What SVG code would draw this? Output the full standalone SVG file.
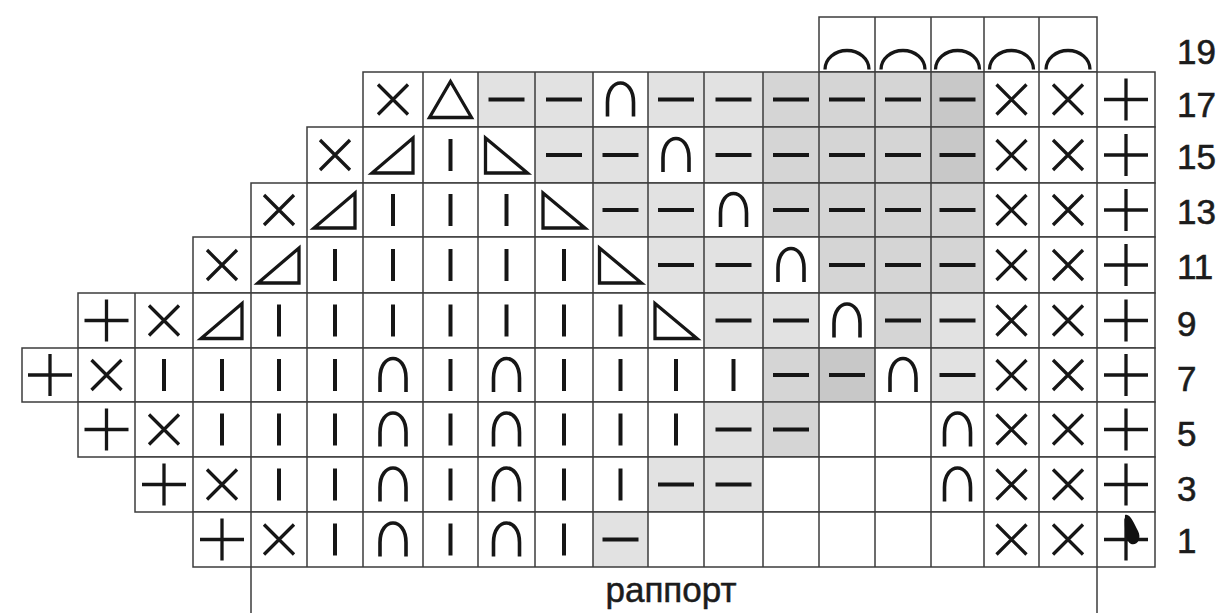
<svg xmlns="http://www.w3.org/2000/svg" xmlns:xlink="http://www.w3.org/1999/xlink" width="1223" height="613" viewBox="0 0 1223 613">
<style>
.bg{fill:#ffffff}
.s1{fill:#e2e2e2}
.s2{fill:#d5d5d5}
.s3{fill:#c8c8c8}
.grid{fill:none;stroke:#3c3c3c;stroke-width:1.5}
.sym{fill:none;stroke:#161616;stroke-width:3.3}
.num{font-family:"Liberation Sans",Arial,sans-serif;font-size:35px;fill:#1c1c1c;stroke:#1c1c1c;stroke-width:0.6}
.lbl{font-family:"Liberation Sans",Arial,sans-serif;font-size:35px;fill:#1c1c1c;stroke:#1c1c1c;stroke-width:0.5;text-anchor:middle}
</style>
<defs>
<path id="sx" d="M-15,-15L15,15M15,-15L-15,15"/>
<path id="sp" d="M-22,0H22M0,-21V21"/>
<path id="sk" d="M0,-16V16" stroke-width="4"/>
<path id="sm" d="M-18,0H18" stroke-width="4"/>
<path id="sa" d="M-13,17V3C-13,-23 13,-23 13,3V17" stroke-width="3.6"/>
<path id="st" d="M0,-18L21,18H-21Z"/>
<path id="sl" d="M-21,18H20V-17Z"/>
<path id="sr" d="M-21,-17V18H21Z"/>
<path id="sc" d="M-22,25A22,19 0 0 1 22,25"/>
</defs>
<rect width="1223" height="613" fill="#ffffff"/>

<g id="row-19">
<rect class="bg" x="819" y="17" width="278" height="55"/>
<path class="grid" d="M819,17H1097V72H819ZM875,17V72M931,17V72M984,17V72M1039,17V72"/>
<g class="sym">
<use xlink:href="#sc" x="847" y="44.5"/><use xlink:href="#sc" x="903" y="44.5"/><use xlink:href="#sc" x="957.5" y="44.5"/><use xlink:href="#sc" x="1011.5" y="44.5"/><use xlink:href="#sc" x="1068" y="44.5"/>
</g>
<text class="num" x="1177" y="64">19</text>
</g>

<g id="row-17">
<rect class="bg" x="363" y="72" width="792" height="55"/>
<rect class="s1" x="478" y="72" width="57" height="55"/><rect class="s1" x="535" y="72" width="58" height="55"/>
<rect class="s1" x="648" y="72" width="56" height="55"/><rect class="s1" x="704" y="72" width="59" height="55"/><rect class="s2" x="763" y="72" width="56" height="55"/><rect class="s2" x="819" y="72" width="56" height="55"/><rect class="s2" x="875" y="72" width="56" height="55"/><rect class="s3" x="931" y="72" width="53" height="55"/>
<path class="grid" d="M363,72H1155V127H363ZM423,72V127M478,72V127M535,72V127M593,72V127M648,72V127M704,72V127M763,72V127M819,72V127M875,72V127M931,72V127M984,72V127M1039,72V127M1097,72V127"/>
<g class="sym">
<use xlink:href="#sx" x="393" y="99.5"/><use xlink:href="#st" x="450.5" y="99.5"/><use xlink:href="#sm" x="506.5" y="99.5"/><use xlink:href="#sm" x="564" y="99.5"/><use xlink:href="#sa" x="620.5" y="99.5"/><use xlink:href="#sm" x="676" y="99.5"/><use xlink:href="#sm" x="733.5" y="99.5"/><use xlink:href="#sm" x="791" y="99.5"/><use xlink:href="#sm" x="847" y="99.5"/><use xlink:href="#sm" x="903" y="99.5"/><use xlink:href="#sm" x="957.5" y="99.5"/><use xlink:href="#sx" x="1011.5" y="99.5"/><use xlink:href="#sx" x="1068" y="99.5"/><use xlink:href="#sp" x="1126" y="99.5"/>
</g>
<text class="num" x="1177" y="117">17</text>
</g>

<g id="row-15">
<rect class="bg" x="307" y="127" width="848" height="56"/>
<rect class="s1" x="535" y="127" width="58" height="56"/><rect class="s1" x="593" y="127" width="55" height="56"/>
<rect class="s1" x="704" y="127" width="59" height="56"/><rect class="s2" x="763" y="127" width="56" height="56"/><rect class="s2" x="819" y="127" width="56" height="56"/><rect class="s2" x="875" y="127" width="56" height="56"/><rect class="s3" x="931" y="127" width="53" height="56"/>
<path class="grid" d="M307,127H1155V183H307ZM363,127V183M423,127V183M478,127V183M535,127V183M593,127V183M648,127V183M704,127V183M763,127V183M819,127V183M875,127V183M931,127V183M984,127V183M1039,127V183M1097,127V183"/>
<g class="sym">
<use xlink:href="#sx" x="335" y="155"/><use xlink:href="#sl" x="393" y="155"/><use xlink:href="#sk" x="450.5" y="155"/><use xlink:href="#sr" x="506.5" y="155"/><use xlink:href="#sm" x="564" y="155"/><use xlink:href="#sm" x="620.5" y="155"/><use xlink:href="#sa" x="676" y="155"/><use xlink:href="#sm" x="733.5" y="155"/><use xlink:href="#sm" x="791" y="155"/><use xlink:href="#sm" x="847" y="155"/><use xlink:href="#sm" x="903" y="155"/><use xlink:href="#sm" x="957.5" y="155"/><use xlink:href="#sx" x="1011.5" y="155"/><use xlink:href="#sx" x="1068" y="155"/><use xlink:href="#sp" x="1126" y="155"/>
</g>
<text class="num" x="1177" y="169">15</text>
</g>

<g id="row-13">
<rect class="bg" x="251" y="183" width="904" height="54"/>
<rect class="s1" x="593" y="183" width="55" height="54"/><rect class="s1" x="648" y="183" width="56" height="54"/>
<rect class="s2" x="763" y="183" width="56" height="54"/><rect class="s2" x="819" y="183" width="56" height="54"/><rect class="s2" x="875" y="183" width="56" height="54"/><rect class="s2" x="931" y="183" width="53" height="54"/>
<path class="grid" d="M251,183H1155V237H251ZM307,183V237M363,183V237M423,183V237M478,183V237M535,183V237M593,183V237M648,183V237M704,183V237M763,183V237M819,183V237M875,183V237M931,183V237M984,183V237M1039,183V237M1097,183V237"/>
<g class="sym">
<use xlink:href="#sx" x="279" y="210"/><use xlink:href="#sl" x="335" y="210"/><use xlink:href="#sk" x="393" y="210"/><use xlink:href="#sk" x="450.5" y="210"/><use xlink:href="#sk" x="506.5" y="210"/><use xlink:href="#sr" x="564" y="210"/><use xlink:href="#sm" x="620.5" y="210"/><use xlink:href="#sm" x="676" y="210"/><use xlink:href="#sa" x="733.5" y="210"/><use xlink:href="#sm" x="791" y="210"/><use xlink:href="#sm" x="847" y="210"/><use xlink:href="#sm" x="903" y="210"/><use xlink:href="#sm" x="957.5" y="210"/><use xlink:href="#sx" x="1011.5" y="210"/><use xlink:href="#sx" x="1068" y="210"/><use xlink:href="#sp" x="1126" y="210"/>
</g>
<text class="num" x="1177" y="224">13</text>
</g>

<g id="row-11">
<rect class="bg" x="193" y="237" width="962" height="56"/>
<rect class="s1" x="648" y="237" width="56" height="56"/><rect class="s1" x="704" y="237" width="59" height="56"/>
<rect class="s2" x="819" y="237" width="56" height="56"/><rect class="s2" x="875" y="237" width="56" height="56"/><rect class="s2" x="931" y="237" width="53" height="56"/>
<path class="grid" d="M193,237H1155V293H193ZM251,237V293M307,237V293M363,237V293M423,237V293M478,237V293M535,237V293M593,237V293M648,237V293M704,237V293M763,237V293M819,237V293M875,237V293M931,237V293M984,237V293M1039,237V293M1097,237V293"/>
<g class="sym">
<use xlink:href="#sx" x="222" y="265"/><use xlink:href="#sl" x="279" y="265"/><use xlink:href="#sk" x="335" y="265"/><use xlink:href="#sk" x="393" y="265"/><use xlink:href="#sk" x="450.5" y="265"/><use xlink:href="#sk" x="506.5" y="265"/><use xlink:href="#sk" x="564" y="265"/><use xlink:href="#sr" x="620.5" y="265"/><use xlink:href="#sm" x="676" y="265"/><use xlink:href="#sm" x="733.5" y="265"/><use xlink:href="#sa" x="791" y="265"/><use xlink:href="#sm" x="847" y="265"/><use xlink:href="#sm" x="903" y="265"/><use xlink:href="#sm" x="957.5" y="265"/><use xlink:href="#sx" x="1011.5" y="265"/><use xlink:href="#sx" x="1068" y="265"/><use xlink:href="#sp" x="1126" y="265"/>
</g>
<text class="num" x="1177" y="279">11</text>
</g>

<g id="row-9">
<rect class="bg" x="78" y="293" width="1077" height="55"/>
<rect class="s1" x="704" y="293" width="59" height="55"/><rect class="s1" x="763" y="293" width="56" height="55"/>
<rect class="s2" x="875" y="293" width="56" height="55"/><rect class="s1" x="931" y="293" width="53" height="55"/>
<path class="grid" d="M78,293H1155V348H78ZM135,293V348M193,293V348M251,293V348M307,293V348M363,293V348M423,293V348M478,293V348M535,293V348M593,293V348M648,293V348M704,293V348M763,293V348M819,293V348M875,293V348M931,293V348M984,293V348M1039,293V348M1097,293V348"/>
<g class="sym">
<use xlink:href="#sp" x="106.5" y="320.5"/><use xlink:href="#sx" x="164" y="320.5"/><use xlink:href="#sl" x="222" y="320.5"/><use xlink:href="#sk" x="279" y="320.5"/><use xlink:href="#sk" x="335" y="320.5"/><use xlink:href="#sk" x="393" y="320.5"/><use xlink:href="#sk" x="450.5" y="320.5"/><use xlink:href="#sk" x="506.5" y="320.5"/><use xlink:href="#sk" x="564" y="320.5"/><use xlink:href="#sk" x="620.5" y="320.5"/><use xlink:href="#sr" x="676" y="320.5"/><use xlink:href="#sm" x="733.5" y="320.5"/><use xlink:href="#sm" x="791" y="320.5"/><use xlink:href="#sa" x="847" y="320.5"/><use xlink:href="#sm" x="903" y="320.5"/><use xlink:href="#sm" x="957.5" y="320.5"/><use xlink:href="#sx" x="1011.5" y="320.5"/><use xlink:href="#sx" x="1068" y="320.5"/><use xlink:href="#sp" x="1126" y="320.5"/>
</g>
<text class="num" x="1177" y="336">9</text>
</g>

<g id="row-7">
<rect class="bg" x="22" y="348" width="1133" height="54"/>
<rect class="s2" x="763" y="348" width="56" height="54"/><rect class="s3" x="819" y="348" width="56" height="54"/><rect class="s1" x="931" y="348" width="53" height="54"/>
<path class="grid" d="M22,348H1155V402H22ZM78,348V402M135,348V402M193,348V402M251,348V402M307,348V402M363,348V402M423,348V402M478,348V402M535,348V402M593,348V402M648,348V402M704,348V402M763,348V402M819,348V402M875,348V402M931,348V402M984,348V402M1039,348V402M1097,348V402"/>
<g class="sym">
<use xlink:href="#sp" x="50" y="375"/><use xlink:href="#sx" x="106.5" y="375"/><use xlink:href="#sk" x="164" y="375"/><use xlink:href="#sk" x="222" y="375"/><use xlink:href="#sk" x="279" y="375"/><use xlink:href="#sk" x="335" y="375"/><use xlink:href="#sa" x="393" y="375"/><use xlink:href="#sk" x="450.5" y="375"/><use xlink:href="#sa" x="506.5" y="375"/><use xlink:href="#sk" x="564" y="375"/><use xlink:href="#sk" x="620.5" y="375"/><use xlink:href="#sk" x="676" y="375"/><use xlink:href="#sk" x="733.5" y="375"/><use xlink:href="#sm" x="791" y="375"/><use xlink:href="#sm" x="847" y="375"/><use xlink:href="#sa" x="903" y="375"/><use xlink:href="#sm" x="957.5" y="375"/><use xlink:href="#sx" x="1011.5" y="375"/><use xlink:href="#sx" x="1068" y="375"/><use xlink:href="#sp" x="1126" y="375"/>
</g>
<text class="num" x="1177" y="391">7</text>
</g>

<g id="row-5">
<rect class="bg" x="78" y="402" width="1077" height="55"/>
<rect class="s1" x="704" y="402" width="59" height="55"/><rect class="s2" x="763" y="402" width="56" height="55"/>
<path class="grid" d="M78,402H1155V457H78ZM135,402V457M193,402V457M251,402V457M307,402V457M363,402V457M423,402V457M478,402V457M535,402V457M593,402V457M648,402V457M704,402V457M763,402V457M819,402V457M875,402V457M931,402V457M984,402V457M1039,402V457M1097,402V457"/>
<g class="sym">
<use xlink:href="#sp" x="106.5" y="429.5"/><use xlink:href="#sx" x="164" y="429.5"/><use xlink:href="#sk" x="222" y="429.5"/><use xlink:href="#sk" x="279" y="429.5"/><use xlink:href="#sk" x="335" y="429.5"/><use xlink:href="#sa" x="393" y="429.5"/><use xlink:href="#sk" x="450.5" y="429.5"/><use xlink:href="#sa" x="506.5" y="429.5"/><use xlink:href="#sk" x="564" y="429.5"/><use xlink:href="#sk" x="620.5" y="429.5"/><use xlink:href="#sk" x="676" y="429.5"/><use xlink:href="#sm" x="733.5" y="429.5"/><use xlink:href="#sm" x="791" y="429.5"/><use xlink:href="#sa" x="957.5" y="429.5"/><use xlink:href="#sx" x="1011.5" y="429.5"/><use xlink:href="#sx" x="1068" y="429.5"/><use xlink:href="#sp" x="1126" y="429.5"/>
</g>
<text class="num" x="1177" y="446">5</text>
</g>

<g id="row-3">
<rect class="bg" x="135" y="457" width="1020" height="55"/>
<rect class="s1" x="648" y="457" width="56" height="55"/><rect class="s1" x="704" y="457" width="59" height="55"/>
<path class="grid" d="M135,457H1155V512H135ZM193,457V512M251,457V512M307,457V512M363,457V512M423,457V512M478,457V512M535,457V512M593,457V512M648,457V512M704,457V512M763,457V512M819,457V512M875,457V512M931,457V512M984,457V512M1039,457V512M1097,457V512"/>
<g class="sym">
<use xlink:href="#sp" x="164" y="484.5"/><use xlink:href="#sx" x="222" y="484.5"/><use xlink:href="#sk" x="279" y="484.5"/><use xlink:href="#sk" x="335" y="484.5"/><use xlink:href="#sa" x="393" y="484.5"/><use xlink:href="#sk" x="450.5" y="484.5"/><use xlink:href="#sa" x="506.5" y="484.5"/><use xlink:href="#sk" x="564" y="484.5"/><use xlink:href="#sk" x="620.5" y="484.5"/><use xlink:href="#sm" x="676" y="484.5"/><use xlink:href="#sm" x="733.5" y="484.5"/><use xlink:href="#sa" x="957.5" y="484.5"/><use xlink:href="#sx" x="1011.5" y="484.5"/><use xlink:href="#sx" x="1068" y="484.5"/><use xlink:href="#sp" x="1126" y="484.5"/>
</g>
<text class="num" x="1177" y="501">3</text>
</g>

<g id="row-1">
<rect class="bg" x="193" y="512" width="962" height="55"/>
<rect class="s1" x="593" y="512" width="55" height="55"/>
<path class="grid" d="M193,512H1155V567H193ZM251,512V567M307,512V567M363,512V567M423,512V567M478,512V567M535,512V567M593,512V567M648,512V567M704,512V567M763,512V567M819,512V567M875,512V567M931,512V567M984,512V567M1039,512V567M1097,512V567"/>
<g class="sym">
<use xlink:href="#sp" x="222" y="539.5"/><use xlink:href="#sx" x="279" y="539.5"/><use xlink:href="#sk" x="335" y="539.5"/><use xlink:href="#sa" x="393" y="539.5"/><use xlink:href="#sk" x="450.5" y="539.5"/><use xlink:href="#sa" x="506.5" y="539.5"/><use xlink:href="#sk" x="564" y="539.5"/><use xlink:href="#sm" x="620.5" y="539.5"/><use xlink:href="#sx" x="1011.5" y="539.5"/><use xlink:href="#sx" x="1068" y="539.5"/><use xlink:href="#sp" x="1126" y="539.5"/>
</g>
<path d="M1125,515C1130,513 1134,523 1138,531C1142,539 1137,546 1131,544C1126,542 1124,530 1125,515Z" fill="#111111"/>
<text class="num" x="1177" y="553">1</text>
</g>

<g id="rapport">
<path class="grid" d="M251,567V613M1097,567V613"/>
<text class="lbl" x="671" y="602">раппорт</text>
</g>
</svg>
